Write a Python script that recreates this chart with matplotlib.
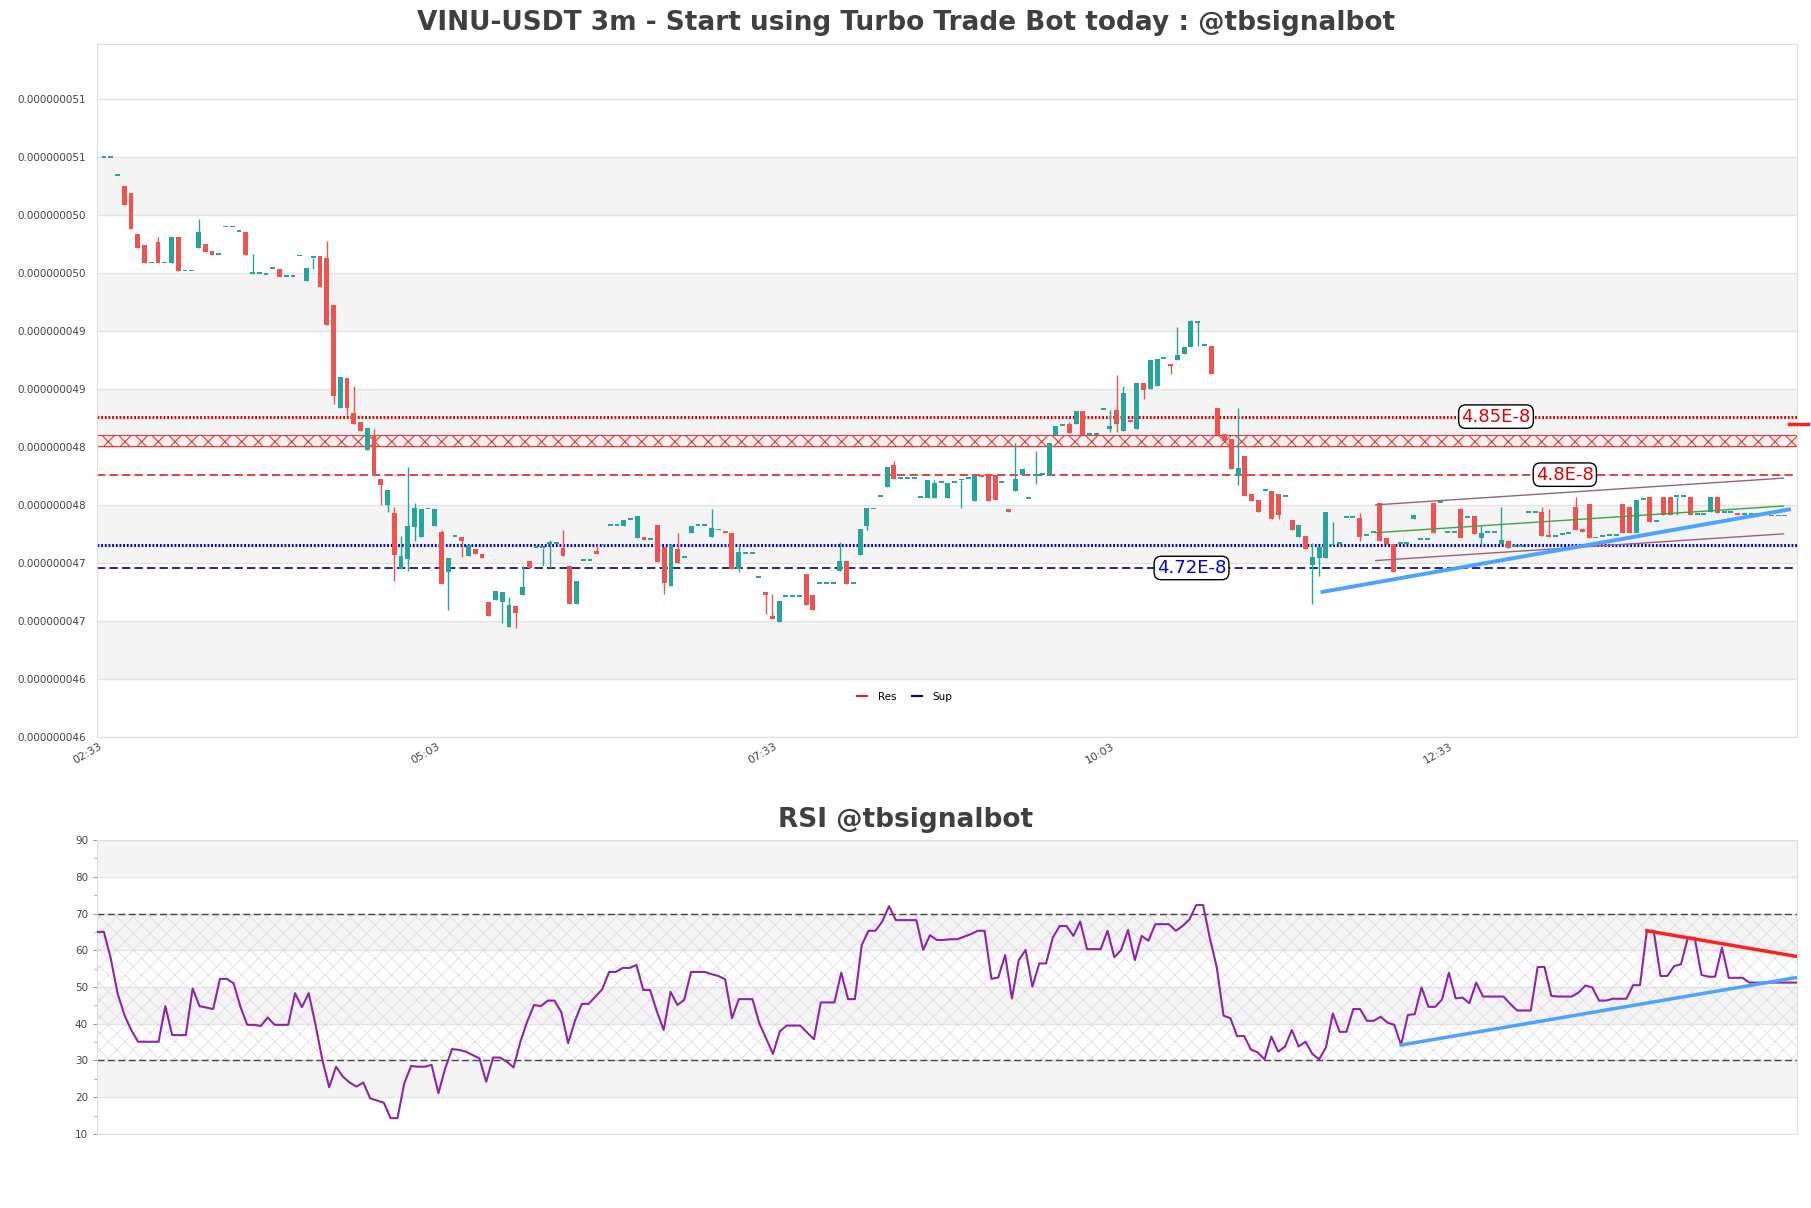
import numpy as np
import matplotlib
matplotlib.use("Agg")
import matplotlib.pyplot as plt
from matplotlib.lines import Line2D
from matplotlib.ticker import FuncFormatter, MultipleLocator

# candle data, price in units of 1e-8 USDT (3m candles)
opens = [
    5.074, 5.074, 5.058, 5.050, 5.044, 5.008, 4.999, 4.983, 5.001, 4.983,
    4.983, 5.006, 4.976, 4.976, 4.996, 5.000, 4.994, 4.990, 5.014, 5.014,
    5.010, 5.010, 4.974, 4.974, 4.973, 4.978, 4.978, 4.971, 4.971, 4.989,
    4.968, 4.988, 4.989, 4.988, 4.947, 4.858, 4.884, 4.854, 4.846, 4.822,
    4.835, 4.797, 4.775, 4.768, 4.720, 4.728, 4.756, 4.747, 4.771, 4.757,
    4.752, 4.717, 4.747, 4.747, 4.731, 4.737, 4.733, 4.691, 4.693, 4.691,
    4.670, 4.688, 4.697, 4.727, 4.738, 4.738, 4.741, 4.741, 4.738, 4.722,
    4.690, 4.727, 4.727, 4.735, 4.740, 4.757, 4.757, 4.757, 4.762, 4.746,
    4.747, 4.745, 4.758, 4.739, 4.705, 4.737, 4.729, 4.751, 4.757, 4.757,
    4.747, 4.753, 4.752, 4.751, 4.720, 4.733, 4.733, 4.712, 4.700, 4.679,
    4.674, 4.696, 4.696, 4.696, 4.715, 4.697, 4.707, 4.707, 4.707, 4.718,
    4.727, 4.707, 4.732, 4.757, 4.771, 4.782, 4.790, 4.809, 4.797, 4.797,
    4.797, 4.781, 4.781, 4.781, 4.794, 4.781, 4.794, 4.796, 4.797, 4.778,
    4.800, 4.800, 4.801, 4.794, 4.771, 4.787, 4.801, 4.780, 4.800, 4.801,
    4.801, 4.835, 4.843, 4.845, 4.845, 4.856, 4.835, 4.835, 4.857, 4.840,
    4.857, 4.839, 4.848, 4.840, 4.880, 4.875, 4.877, 4.901, 4.896, 4.900,
    4.905, 4.911, 4.932, 4.912, 4.912, 4.858, 4.836, 4.832, 4.800, 4.817,
    4.784, 4.779, 4.787, 4.787, 4.784, 4.782, 4.762, 4.747, 4.748, 4.723,
    4.729, 4.729, 4.740, 4.741, 4.764, 4.764, 4.764, 4.748, 4.751, 4.777,
    4.746, 4.741, 4.741, 4.741, 4.763, 4.745, 4.745, 4.777, 4.777, 4.751,
    4.751, 4.771, 4.764, 4.765, 4.746, 4.751, 4.751, 4.741, 4.744, 4.739,
    4.739, 4.768, 4.768, 4.769, 4.748, 4.747, 4.749, 4.750, 4.773, 4.754,
    4.776, 4.746, 4.747, 4.748, 4.748, 4.776, 4.773, 4.751, 4.779, 4.782,
    4.760, 4.782, 4.782, 4.782, 4.782, 4.782, 4.766, 4.766, 4.769, 4.782,
    4.768, 4.768, 4.768, 4.766, 4.766, 4.767, 4.766, 4.765, 4.765, 4.765,
]
closes = [
    5.074, 5.074, 5.058, 5.033, 5.013, 4.996, 4.983, 4.983, 4.983, 4.983,
    5.006, 4.976, 4.976, 4.976, 5.010, 4.993, 4.990, 4.990, 5.014, 5.014,
    5.010, 4.990, 4.974, 4.974, 4.973, 4.978, 4.971, 4.971, 4.971, 4.989,
    4.979, 4.988, 4.963, 4.930, 4.869, 4.885, 4.858, 4.845, 4.839, 4.841,
    4.800, 4.792, 4.788, 4.732, 4.731, 4.757, 4.772, 4.771, 4.771, 4.771,
    4.707, 4.729, 4.747, 4.744, 4.740, 4.733, 4.729, 4.679, 4.701, 4.700,
    4.689, 4.682, 4.704, 4.721, 4.738, 4.738, 4.741, 4.741, 4.731, 4.690,
    4.709, 4.727, 4.727, 4.733, 4.740, 4.757, 4.757, 4.762, 4.762, 4.765,
    4.745, 4.745, 4.726, 4.708, 4.740, 4.725, 4.729, 4.757, 4.757, 4.757,
    4.755, 4.753, 4.751, 4.720, 4.734, 4.733, 4.733, 4.712, 4.697, 4.677,
    4.692, 4.696, 4.696, 4.696, 4.689, 4.684, 4.707, 4.707, 4.707, 4.727,
    4.707, 4.707, 4.754, 4.772, 4.771, 4.782, 4.808, 4.797, 4.797, 4.797,
    4.797, 4.781, 4.796, 4.794, 4.794, 4.794, 4.794, 4.796, 4.797, 4.800,
    4.799, 4.778, 4.779, 4.794, 4.769, 4.797, 4.806, 4.780, 4.800, 4.801,
    4.828, 4.843, 4.843, 4.837, 4.856, 4.835, 4.835, 4.835, 4.857, 4.843,
    4.845, 4.871, 4.846, 4.880, 4.874, 4.900, 4.901, 4.901, 4.895, 4.904,
    4.911, 4.933, 4.933, 4.912, 4.888, 4.835, 4.830, 4.806, 4.807, 4.783,
    4.778, 4.769, 4.787, 4.763, 4.766, 4.782, 4.753, 4.758, 4.737, 4.730,
    4.739, 4.769, 4.741, 4.741, 4.764, 4.764, 4.747, 4.748, 4.751, 4.744,
    4.741, 4.717, 4.741, 4.741, 4.766, 4.745, 4.745, 4.751, 4.777, 4.751,
    4.751, 4.746, 4.764, 4.750, 4.751, 4.751, 4.751, 4.745, 4.738, 4.739,
    4.739, 4.768, 4.768, 4.748, 4.747, 4.747, 4.749, 4.750, 4.753, 4.752,
    4.746, 4.746, 4.747, 4.748, 4.748, 4.751, 4.751, 4.779, 4.779, 4.760,
    4.760, 4.766, 4.766, 4.782, 4.782, 4.766, 4.766, 4.766, 4.782, 4.768,
    4.768, 4.768, 4.766, 4.766, 4.766, 4.766, 4.766, 4.765, 4.765, 4.765,
]
# wick ends that stick out past the body {candle index: price}
upper_wicks = {8: 5.006, 14: 5.021, 22: 4.991, 33: 5.002, 37: 4.877, 40: 4.840,
               43: 4.773, 44: 4.748, 45: 4.808, 46: 4.777, 50: 4.753, 60: 4.696,
               62: 4.722, 66: 4.745, 68: 4.753, 73: 4.741, 85: 4.751, 90: 4.771,
               94: 4.741, 99: 4.698, 109: 4.743, 117: 4.813, 123: 4.796, 135: 4.828,
               138: 4.821, 143: 4.846, 149: 4.857, 150: 4.887, 151: 4.877, 159: 4.928,
               161: 4.934, 168: 4.858, 179: 4.742, 182: 4.760, 186: 4.768, 201: 4.772,
               204: 4.757, 207: 4.773, 213: 4.773, 214: 4.771, 218: 4.782}
lower_wicks = {31: 4.978, 34: 4.862, 36: 4.852, 41: 4.775, 42: 4.769, 43: 4.709,
               45: 4.718, 46: 4.744, 51: 4.684, 53: 4.730, 59: 4.673, 61: 4.669,
               65: 4.722, 66: 4.721, 83: 4.698, 94: 4.717, 98: 4.681, 113: 4.753,
               127: 4.772, 138: 4.793, 149: 4.838, 150: 4.838, 154: 4.866, 158: 4.888,
               162: 4.912, 168: 4.792, 174: 4.763, 179: 4.690, 180: 4.714, 186: 4.744,
               204: 4.741, 233: 4.766}

rsi = [
    65.0, 65.0, 57.8, 48.3, 42.4, 38.3, 35.1, 35.1, 35.1, 35.1,
    44.8, 36.9, 36.9, 36.9, 49.6, 44.8, 44.4, 44.0, 52.2, 52.2,
    51.0, 44.6, 39.7, 39.7, 39.4, 41.7, 39.7, 39.7, 39.7, 48.3,
    44.5, 48.3, 39.7, 30.1, 22.7, 28.3, 25.6, 24.0, 22.9, 24.0,
    19.7, 19.1, 18.5, 14.3, 14.3, 23.8, 28.5, 28.3, 28.3, 28.8,
    21.1, 27.9, 33.1, 32.9, 32.4, 31.5, 30.6, 24.2, 30.8, 30.8,
    29.7, 28.1, 35.1, 40.6, 45.1, 44.8, 46.3, 46.3, 43.1, 34.7,
    40.8, 45.4, 45.4, 47.4, 49.4, 54.1, 54.1, 55.2, 55.2, 56.0,
    49.2, 49.2, 43.3, 38.3, 48.7, 45.1, 46.5, 54.1, 54.1, 54.1,
    53.5, 53.0, 52.1, 41.5, 46.7, 46.7, 46.7, 40.1, 36.0, 31.8,
    37.9, 39.5, 39.5, 39.5, 37.6, 35.8, 45.8, 45.8, 45.8, 53.9,
    46.7, 46.7, 61.4, 65.3, 65.3, 67.8, 72.0, 68.2, 68.2, 68.2,
    68.2, 60.1, 64.1, 62.8, 62.8, 63.0, 63.0, 63.7, 64.4, 65.3,
    65.3, 52.2, 52.6, 58.7, 46.9, 57.3, 60.1, 50.1, 56.4, 56.4,
    63.5, 66.6, 66.6, 63.9, 67.8, 60.3, 60.3, 60.3, 65.3, 58.1,
    60.1, 65.5, 57.3, 63.9, 62.6, 67.1, 67.1, 67.1, 65.3, 66.6,
    68.4, 72.3, 72.3, 63.2, 55.4, 42.2, 41.5, 36.6, 36.7, 33.0,
    32.2, 30.3, 36.5, 32.4, 33.8, 38.3, 33.8, 35.1, 31.8, 30.3,
    33.6, 42.8, 37.8, 37.8, 44.0, 44.0, 40.8, 40.8, 41.9, 40.3,
    39.7, 34.2, 42.4, 42.6, 49.9, 44.6, 44.6, 46.6, 53.9, 46.9,
    47.1, 45.6, 51.2, 47.4, 47.4, 47.4, 47.4, 45.4, 43.6, 43.6,
    43.6, 55.4, 55.5, 47.6, 47.4, 47.4, 47.4, 48.5, 50.4, 49.9,
    46.3, 46.3, 46.8, 46.8, 46.8, 50.5, 50.5, 65.3, 65.3, 53.0,
    53.0, 55.7, 56.2, 63.4, 63.4, 53.3, 52.8, 52.8, 60.7, 52.5,
    52.5, 52.5, 51.2, 51.2, 51.2, 51.2, 51.2, 51.2, 51.2, 51.2,
]

time_ticks = [0, 50, 100, 150, 200]
time_labels = ["02:33", "05:03", "07:33", "10:03", "12:33"]

# support / resistance levels (1e-8)
res_level = 4.851
res_level2 = 4.801
res_zone = (4.826, 4.835)
sup_level = 4.7405
sup_level2 = 4.7206
level_labels = [(206.2, 4.851, "4.85E-8", "#e00000"),
                (216.4, 4.801, "4.8E-8", "#e00000"),
                (161.1, 4.7206, "4.72E-8", "#0000dd")]

# trend / channel lines on price
trend_x = [180.5, 249.6]
trend_y = [4.700, 4.771]
chan_x = [188.4, 248.8]
chan_top = [4.775, 4.798]
chan_mid = [4.751, 4.774]
chan_bot = [4.727, 4.750]
last_mark_x = [249.6, 252.4]
last_mark_y = [4.845, 4.845]

# trend lines on RSI
rsi_down_x = [227, 249]
rsi_down_y = [65.3, 58.3]
rsi_up_x = [191, 249]
rsi_up_y = [34.2, 52.6]

SC = 1e-8
UP = "#26a69a"
DOWN = "#ef5350"
GRID = "#e3e3e3"
BAND = "#f4f4f4"
TXT = "#444444"

N = len(opens)
x = np.arange(N)
o = np.array(opens)
c = np.array(closes)
hi = np.maximum(o, c)
lo = np.minimum(o, c)
for k, v in upper_wicks.items():
    hi[k] = max(hi[k], v)
for k, v in lower_wicks.items():
    lo[k] = min(lo[k], v)

fig = plt.figure(figsize=(18.11, 12.08), dpi=100)
ax = fig.add_axes([0.0536, 0.3899, 0.9387, 0.5737])
ax2 = fig.add_axes([0.0536, 0.0613, 0.9387, 0.2433])

# ---- price panel
yt = [4.575 + 0.05 * k for k in range(12)]
for k in range(1, 11, 2):
    ax.axhspan(yt[k] * SC, yt[k + 1] * SC, color=BAND, lw=0, zorder=0)
for v in yt:
    ax.axhline(v * SC, color=GRID, lw=1, zorder=0.5)

plt.rcParams["hatch.linewidth"] = 0.8
ax.axhspan(res_zone[0] * SC, res_zone[1] * SC, facecolor="#fdeeee", edgecolor="#e23a3a",
           hatch="xx", lw=0.8, zorder=1)
ax.axhline(res_level * SC, color="#e00000", lw=2.2, dashes=(0.6, 0.6), zorder=2)
ax.axhline(res_level2 * SC, color="#dd2222", lw=1.2, dashes=(5, 2.5), zorder=2)
ax.axhline(sup_level * SC, color="#0000cc", lw=2.2, dashes=(0.6, 0.6), zorder=2)
ax.axhline(sup_level2 * SC, color="#000080", lw=1.2, dashes=(5, 2.5), zorder=2)

cols = [UP if cc >= oo else DOWN for oo, cc in zip(o, c)]
body = np.maximum(np.abs(c - o), 0.0016)
ax.vlines(x, lo * SC, hi * SC, colors=cols, lw=1, zorder=3)
ax.bar(x, body * SC, bottom=np.minimum(o, c) * SC, width=0.72, color=cols, lw=0, zorder=3)

ax.plot(chan_x, np.array(chan_top) * SC, color="#9b5f82", lw=1, zorder=4)
ax.plot(chan_x, np.array(chan_bot) * SC, color="#9b5f82", lw=1, zorder=4)
ax.plot(chan_x, np.array(chan_mid) * SC, color="#43a047", lw=1, zorder=4)
ax.plot(trend_x, np.array(trend_y) * SC, color="#4da3ff", lw=2.8, zorder=4)
ax.plot(last_mark_x, np.array(last_mark_y) * SC, color="#ff2020", lw=2.5, clip_on=False, zorder=6)

for lx, ly, s, col in level_labels:
    ax.text(lx, ly * SC, s, color=col, fontsize=13, ha="center", va="center", zorder=6,
            bbox=dict(boxstyle="round,pad=0.15,rounding_size=0.4", fc="white", ec="black", lw=1))

ax.set_xlim(-1.03, 250.8)
ax.set_ylim(4.575 * SC, 5.172 * SC)
ax.set_yticks([v * SC for v in yt])
ax.yaxis.set_major_formatter(FuncFormatter(lambda v, p: f"{v:.9f}"))
ax.set_xticks(time_ticks)
ax.set_xticklabels(time_labels, rotation=30, ha="right")
ax.tick_params(axis="y", length=0, labelsize=7.5, labelcolor=TXT, pad=8)
ax.tick_params(axis="x", length=0, labelsize=8, labelcolor=TXT, pad=3)
for s in ax.spines.values():
    s.set_color("#dddddd")

leg = ax.legend([Line2D([], [], color="#dd2222", lw=1.5), Line2D([], [], color="#0000aa", lw=1.5)],
                ["Res", "Sup"], loc="center", bbox_to_anchor=(0.475, 0.058), ncol=2,
                frameon=False, fontsize=7.5, handlelength=1.0, handletextpad=1.0, columnspacing=1.5)

fig.text(0.5003, 0.981, "VINU-USDT 3m - Start using Turbo Trade Bot today : @tbsignalbot",
         ha="center", va="center", fontsize=19, fontweight="bold", color="#404040")

# ---- RSI panel
for lo_b in (20, 40, 60, 80):
    ax2.axhspan(lo_b, lo_b + 10, color=BAND, lw=0, zorder=0)
for v in range(10, 100, 10):
    ax2.axhline(v, color=GRID, lw=1, zorder=0.5)
plt.rcParams["hatch.linewidth"] = 0.5
ax2.axhspan(30, 70, facecolor="none", edgecolor="#ddd5e6", hatch="xx", lw=0, zorder=0.7)
ax2.axhline(70, color="#444444", lw=1, dashes=(5, 2.5), zorder=2)
ax2.axhline(30, color="#444444", lw=1, dashes=(5, 2.5), zorder=2)
ax2.plot(x, rsi, color="#8e24aa", lw=1.5, zorder=3)
ax2.plot(rsi_down_x, rsi_down_y, color="#ff2020", lw=2.5, zorder=4)
ax2.plot(rsi_up_x, rsi_up_y, color="#4da3ff", lw=2.5, zorder=4)

ax2.set_xlim(0, N - 1)
ax2.set_ylim(10, 90)
ax2.set_yticks(range(10, 100, 10))
ax2.yaxis.set_minor_locator(MultipleLocator(5))
ax2.set_xticks([])
ax2.tick_params(axis="y", which="major", length=3, color="#999999", labelsize=7.5, labelcolor=TXT)
ax2.tick_params(axis="y", which="minor", length=2, color="#999999")
for s in ax2.spines.values():
    s.set_color("#dddddd")

fig.text(0.5003, 0.321, "RSI @tbsignalbot", ha="center", va="center", fontsize=19,
         fontweight="bold", color="#404040")

fig.savefig("out.png", dpi=100)
